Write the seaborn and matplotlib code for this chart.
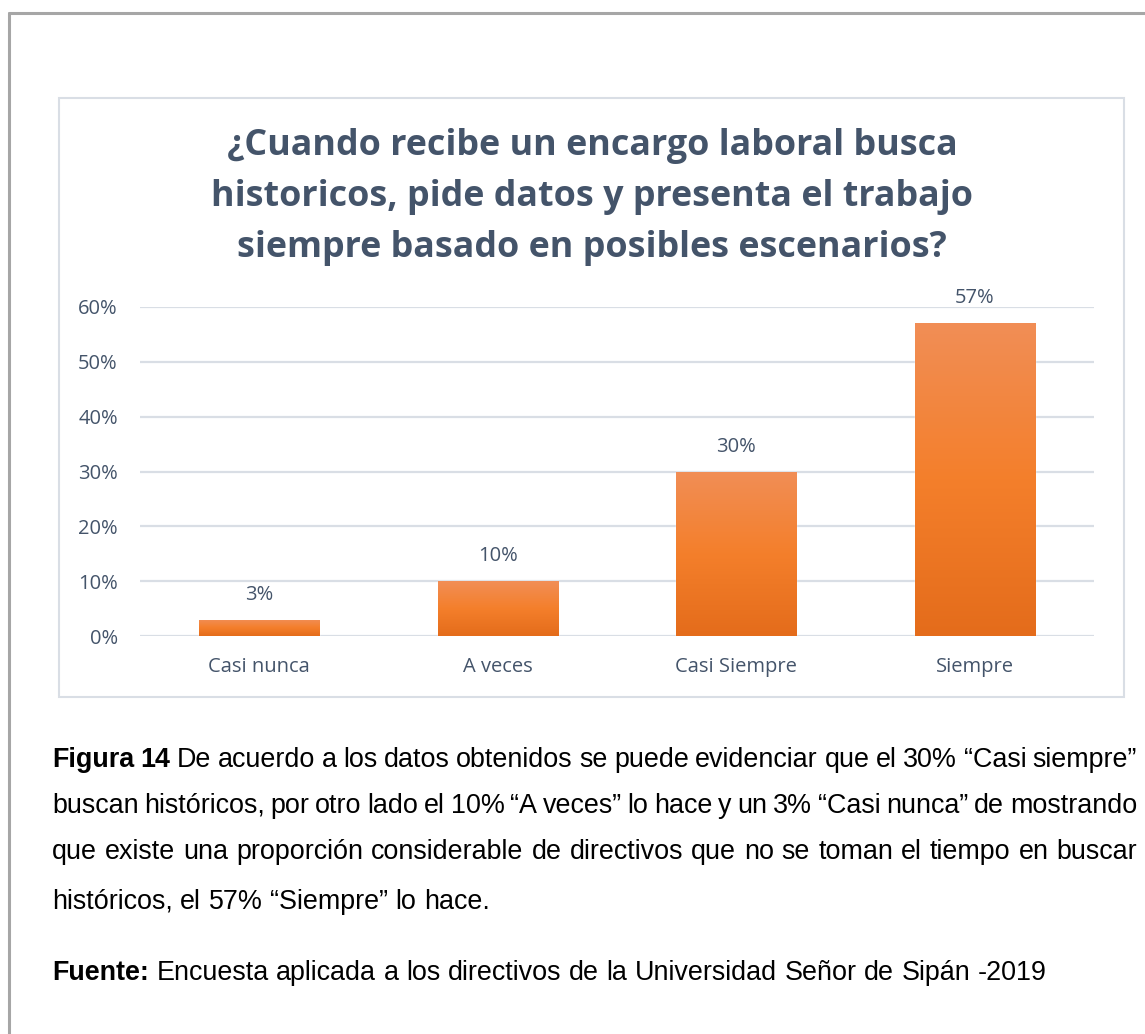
import matplotlib
matplotlib.use("Agg")
import numpy as np
import pandas as pd
import seaborn as sns
import matplotlib.pyplot as plt
from matplotlib.patches import Rectangle
from matplotlib.lines import Line2D

# Datos
categorias = ["Casi nunca", "A veces", "Casi Siempre", "Siempre"]
valores = [0.03, 0.10, 0.30, 0.57]
etiquetas = ["3%", "10%", "30%", "57%"]
ticks_y = [0.0, 0.1, 0.2, 0.3, 0.4, 0.5, 0.6]
ticks_y_txt = ["0%", "10%", "20%", "30%", "40%", "50%", "60%"]

titulo = ("¿Cuando recibe un encargo laboral busca\n"
          "historicos, pide datos y presenta el trabajo\n"
          "siempre basado en posibles escenarios?")

lineas_caption = [
    [("Figura", "bold"), ("14", "bold")] + [(w, "normal") for w in
        "De acuerdo a los datos obtenidos se puede evidenciar que el 30% “Casi siempre”".split()],
    [(w, "normal") for w in
        "buscan históricos, por otro lado el 10% “A veces” lo hace y un 3% “Casi nunca” de mostrando".split()],
    [(w, "normal") for w in
        "que existe una proporción considerable de directivos que no se toman el tiempo en buscar".split()],
    [(w, "normal") for w in "históricos, el 57% “Siempre” lo hace.".split()],
    [("Fuente:", "bold")] + [(w, "normal") for w in
        "Encuesta aplicada a los directivos de la Universidad Señor de Sipán -2019".split()],
]
justificar = [True, True, True, False, False]
baselines = [767, 813, 859, 909, 980]

W, H = 1145, 1034
AZUL = "#44546A"
GRID = "#D9DEE5"

sns.set_style("white")
plt.rcParams["font.family"] = ["Open Sans", "DejaVu Sans"]

fig = plt.figure(figsize=(W / 100, H / 100), dpi=100)

def fx(x):
    return x / W

def fy(y):
    return 1 - y / H

# marco exterior y caja del grafico
fig.add_artist(Line2D([fx(9), fx(W + 5)], [fy(13), fy(13)], color="#A6A6A6", lw=2.2))
fig.add_artist(Line2D([fx(9), fx(9)], [fy(13), fy(H + 5)], color="#A6A6A6", lw=2.2))
fig.add_artist(Rectangle((fx(59), fy(697)), fx(1124 - 59), (697 - 98) / H,
                         fill=False, edgecolor=GRID, lw=1.5))

ax = fig.add_axes([fx(140), fy(636), fx(1094 - 140), (636 - 307) / H])
df = pd.DataFrame({"cat": categorias, "val": valores})
sns.barplot(data=df, x="cat", y="val", color="#F47E2A", width=0.505, ax=ax, zorder=3)

# degradado en cada barra
grad = np.linspace(0, 1, 256).reshape(-1, 1)
cmap = matplotlib.colors.LinearSegmentedColormap.from_list(
    "naranja", ["#E46C1B", "#F47F2B", "#F18E56"])
for p in ax.patches:
    x0, y0 = p.get_x(), p.get_y()
    im = ax.imshow(grad, cmap=cmap, origin="lower", aspect="auto", zorder=4,
                   extent=[x0, x0 + p.get_width(), y0, y0 + p.get_height()])
    im.set_clip_path(p)

ax.set_xlim(-0.5, 3.5)
ax.set_ylim(0, 0.6)
ax.set_yticks(ticks_y)
ax.set_yticklabels(ticks_y_txt)
ax.yaxis.grid(True, color=GRID, lw=1.6, zorder=0)
ax.set_axisbelow(True)
for s in ax.spines.values():
    s.set_visible(False)
ax.tick_params(axis="both", length=0, colors=AZUL, labelsize=14.5)
ax.tick_params(axis="y", pad=16)
ax.tick_params(axis="x", pad=15)
ax.set_xlabel("")
ax.set_ylabel("")

for i, (v, t) in enumerate(zip(valores, etiquetas)):
    ax.annotate(t, (i, v), xytext=(0, 18), textcoords="offset points",
                ha="center", va="center", color=AZUL, fontsize=14.5, zorder=5)

fig.text(fx(592), fy(197), titulo, ha="center", va="center", color=AZUL,
         fontsize=25.8, fontweight="bold", linespacing=1.54,
         family=["Open Sans", "DejaVu Sans"])

# texto de la figura (justificado)
renderer = fig.canvas.get_renderer()
x_ini, x_fin = 52, 1137
fs_cap = 19.4
esp = fig.text(0, 0, "a a", fontsize=fs_cap, family=["Liberation Sans"])
esp2 = fig.text(0, 0, "aa", fontsize=fs_cap, family=["Liberation Sans"])
ancho_esp = esp.get_window_extent(renderer).width - esp2.get_window_extent(renderer).width
esp.remove()
esp2.remove()

for palabras, just, yb in zip(lineas_caption, justificar, baselines):
    textos = [fig.text(0, fy(yb), w, fontsize=fs_cap, fontweight=wt, color="black",
                       va="baseline", ha="left", family=["Liberation Sans"])
              for w, wt in palabras]
    anchos = [t.get_window_extent(renderer).width for t in textos]
    if just:
        gap = (x_fin - x_ini - sum(anchos)) / (len(textos) - 1)
    else:
        gap = ancho_esp
    x = x_ini
    for t, a in zip(textos, anchos):
        t.set_x(fx(x))
        x += a + gap

fig.savefig("out.png", dpi=100)
